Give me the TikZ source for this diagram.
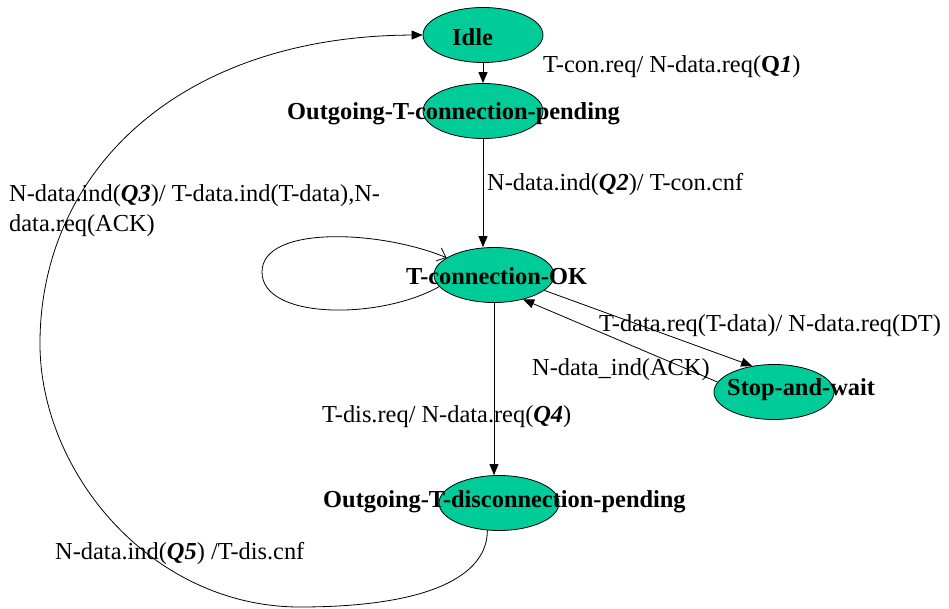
\documentclass[tikz,border=0pt]{standalone}
\usepackage{fontspec}
\setmainfont{Liberation Serif}
\usepackage{tikz}
\usetikzlibrary{arrows.meta,positioning,calc,shapes.geometric}

\definecolor{stategreen}{RGB}{0,204,153}
\tikzset{
  state/.style={ellipse,draw,line width=0.8pt,fill=stategreen,minimum width=120pt,minimum height=55pt,inner sep=0pt},
  statetext/.style={anchor=base west,inner sep=0pt,font=\fontsize{24.4}{30}\selectfont\bfseries},
  lbl/.style={anchor=base west,inner sep=0pt,align=left,font=\fontsize{24.4}{30}\selectfont},
  trans/.style={line width=0.8pt,-{Triangle[length=11pt,width=9pt]}},
}

\begin{document}
\begin{tikzpicture}[x=1pt,y=-1pt]
  \useasboundingbox (0,0) rectangle (949,609); % 全体の大きさ
  \node[state] (idle) at (483,35) {}; % 初期状態
  \node[state] (pend) at (483,111) {}; % 接続要求中
  \node[state] (ok) at (494,275) {}; % 接続確立
  \node[state] (stop) at (774,392) {}; % 送信後の待ち
  \node[state] (dpend) at (499,503) {}; % 切断要求中
  \node[statetext] (tidle) at (452,46) {Idle};
  \node[statetext] (tpend) at (287,120) {Outgoing-T-connection-pending};
  \node[statetext] (tok) at (406,284) {T-connection-OK};
  \node[statetext] (tstop) at (727,395) {Stop-and-wait};
  \node[statetext] (tdpend) at (323,507) {Outgoing-T-disconnection-pending};

  \draw[trans] (idle) -- (pend);
  \draw[trans] (pend.south) -- (ok.north -| pend.south);
  \draw[line width=0.8pt,-{Straight Barb[length=8pt,width=14pt]}] (ok.192)
    .. controls (380,320) and (262,320) .. (262,272)
    .. controls (262,225) and (380,230) .. (ok.160); % 自己ループ
  \draw[trans] (ok.-17) -- (stop.130);
  \draw[trans] (stop.170) -- (ok.-40);
  \draw[trans] (ok.south) -- (ok.south |- dpend.north);
  \draw[trans] (dpend.-113)
    .. controls +(0,45) and (430,607) .. (300,607)
    .. controls (150,607) and (38,470) .. (40,340)
    .. controls (42,170) and (180,36) .. (idle.west); % 左側を大きく回って Idle に戻る

  \node[lbl] (l1) at (543,73) {T-con.req/ N-data.req(\textbf{Q\textit{1}})};
  \node[lbl] (l2) at (487,191) {N-data.ind(\textbf{\textit{Q2}})/ T-con.cnf};
  \node[lbl] (l3) at (9,232) {N-data.ind(\textbf{\textit{Q3}})/ T-data.ind(T-data),N-\\data.req(ACK)};
  \node[lbl] (l4) at (599,331) {T-data.req(T-data)/ N-data.req(DT)};
  \node[lbl] (l5) at (532,375) {N-data\_ind(ACK)};
  \node[lbl] (l6) at (322,422) {T-dis.req/ N-data.req(\textbf{\textit{Q4}})};
  \node[lbl] (l7) at (55,559) {N-data.ind(\textbf{\textit{Q5}}) /T-dis.cnf};
\end{tikzpicture}
\end{document}
